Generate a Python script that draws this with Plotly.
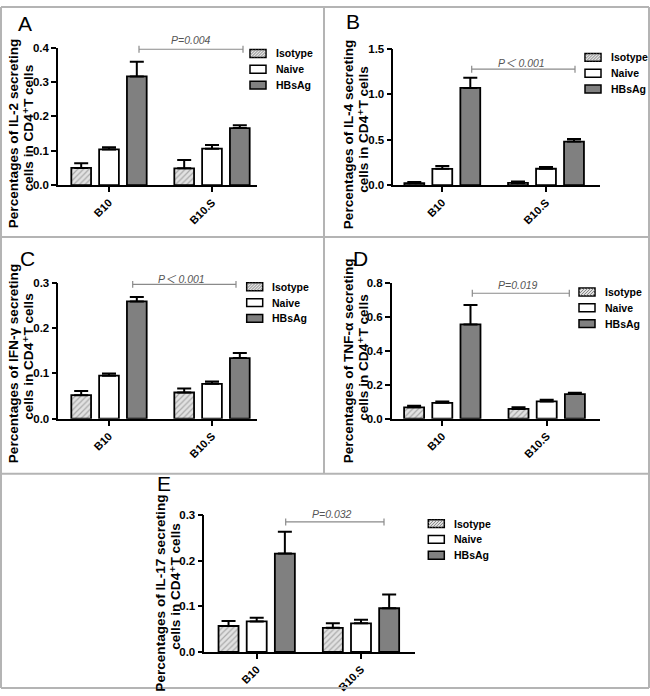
import plotly.graph_objects as go

W, H = 650, 696

groups = ["B10", "B10.S"]
series_names = ["Isotype", "Naive", "HBsAg"]

# Panel A: IL-2
il2_isotype = [0.050, 0.049]
il2_isotype_sd = [0.014, 0.024]
il2_naive = [0.104, 0.106]
il2_naive_sd = [0.006, 0.011]
il2_hbsag = [0.316, 0.166]
il2_hbsag_sd = [0.043, 0.008]

# Panel B: IL-4
il4_isotype = [0.022, 0.025]
il4_isotype_sd = [0.012, 0.015]
il4_naive = [0.179, 0.180]
il4_naive_sd = [0.030, 0.020]
il4_hbsag = [1.068, 0.478]
il4_hbsag_sd = [0.110, 0.030]

# Panel C: IFN-gamma
ifn_isotype = [0.052, 0.058]
ifn_isotype_sd = [0.009, 0.009]
ifn_naive = [0.095, 0.077]
ifn_naive_sd = [0.005, 0.005]
ifn_hbsag = [0.259, 0.134]
ifn_hbsag_sd = [0.010, 0.011]

# Panel D: TNF-alpha
tnf_isotype = [0.067, 0.058]
tnf_isotype_sd = [0.010, 0.009]
tnf_naive = [0.094, 0.102]
tnf_naive_sd = [0.008, 0.010]
tnf_hbsag = [0.555, 0.145]
tnf_hbsag_sd = [0.115, 0.008]

# Panel E: IL-17
il17_isotype = [0.057, 0.053]
il17_isotype_sd = [0.011, 0.010]
il17_naive = [0.067, 0.063]
il17_naive_sd = [0.008, 0.008]
il17_hbsag = [0.216, 0.096]
il17_hbsag_sd = [0.048, 0.030]

panel_letters = ["A", "B", "C", "D", "E"]
cytokines = ["IL-2", "IL-4", "IFN-γ", "TNF-α", "IL-17"]
p_values = ["P=0.004", "P＜ 0.001", "P＜ 0.001", "P=0.019", "P=0.032"]
y_max = [0.4, 1.5, 0.3, 0.8, 0.3]
y_dtick = [0.1, 0.5, 0.1, 0.2, 0.1]

panel_means = [
    [il2_isotype, il2_naive, il2_hbsag],
    [il4_isotype, il4_naive, il4_hbsag],
    [ifn_isotype, ifn_naive, ifn_hbsag],
    [tnf_isotype, tnf_naive, tnf_hbsag],
    [il17_isotype, il17_naive, il17_hbsag],
]
panel_sds = [
    [il2_isotype_sd, il2_naive_sd, il2_hbsag_sd],
    [il4_isotype_sd, il4_naive_sd, il4_hbsag_sd],
    [ifn_isotype_sd, ifn_naive_sd, ifn_hbsag_sd],
    [tnf_isotype_sd, tnf_naive_sd, tnf_hbsag_sd],
    [il17_isotype_sd, il17_naive_sd, il17_hbsag_sd],
]

# ---- layout geometry (pixels) ----
# xl/xr: x-axis line ends, t0/t1: category tick positions, yb/yt: y-axis ends
geom = [
    dict(xl=58.0, xr=257.0, t0=109.0, t1=212.0, yb=182.3, yt=42.3, letter=(25, 18),
         title_x=(13.5, 28.5), title_y=(130, 124), leg=(250, 48.3), br=(139, 243, 44), pt=(191, 35)),
    dict(xl=393.3, xr=600.0, t0=442.3, t1=546.0, yb=182.3, yt=43.3, letter=(353, 16),
         title_x=(348.5, 364), title_y=(131, 126), leg=(585, 52.3), br=(471.7, 575, 64.3), pt=(521.7, 57.7)),
    dict(xl=58.3, xr=257.0, t0=109.0, t1=212.0, yb=420.0, yt=281.7, letter=(27, 257),
         title_x=(13.5, 29), title_y=(364, 357), leg=(246.7, 285.7), br=(132.7, 236, 283.3), pt=(181.7, 277.3)),
    dict(xl=391.7, xr=600.0, t0=442.3, t1=546.7, yb=420.0, yt=281.7, letter=(360, 257),
         title_x=(348.5, 364), title_y=(361, 358), leg=(579, 291), br=(472.3, 569.3, 292.3), pt=(517.7, 284)),
    dict(xl=204.3, xr=415.0, t0=256.7, t1=361.0, yb=657.3, yt=518.3, letter=(164, 486),
         title_x=(161, 176), title_y=(598, 591), leg=(428.3, 526.7), br=(285.7, 384, 525), pt=(332.3, 517.3)),
]

FONT = "Arial, Liberation Sans, DejaVu Sans, Noto Sans CJK SC, sans-serif"
fills = ["#dcdcdc", "#ffffff", "#808080"]
HATCH_BG, HATCH_FG = "#e2e2e2", "#707070"


def px(x):
    return x / W


def py(y):
    return 1 - y / H


fig = go.Figure()
shapes, annotations = [], []
layout = dict(
    width=W, height=H, margin=dict(l=0, r=0, t=0, b=0),
    paper_bgcolor="white", plot_bgcolor="white", showlegend=False,
    barmode="group", bargap=0.19, bargroupgap=0.29,
    font=dict(family=FONT, size=12, color="black"),
)


def pline(x0, y0, x1, y1, color, width):
    shapes.append(dict(type="line", xref="paper", yref="paper",
                       x0=px(x0), y0=py(y0), x1=px(x1), y1=py(y1),
                       line=dict(color=color, width=width)))


for i in range(5):
    g = geom[i]
    sfx = "" if i == 0 else str(i + 1)
    for s in range(3):
        marker = dict(color=fills[s], line=dict(color="black", width=1.8))
        if s == 0:
            marker["pattern"] = dict(shape="/", bgcolor=HATCH_BG, fgcolor=HATCH_FG,
                                     size=4, solidity=0.3)
        fig.add_trace(go.Bar(
            x=groups, y=panel_means[i][s], name=series_names[s],
            xaxis="x" + sfx, yaxis="y" + sfx,
            marker=marker,
            error_y=dict(type="data", symmetric=False, array=panel_sds[i][s],
                         arrayminus=[0] * len(groups), color="black",
                         thickness=2, width=7),
        ))
    spacing = g["t1"] - g["t0"]
    xrange = [-(g["t0"] - g["xl"]) / spacing, 1 + (g["xr"] - g["t1"]) / spacing]
    layout["xaxis" + sfx] = dict(
        domain=[px(g["xl"]), px(g["xr"])], anchor="y" + sfx, type="category",
        range=xrange, showline=True, linecolor="black", linewidth=1.5,
        ticks="outside", ticklen=5, tickwidth=1.5, tickcolor="black",
        tickangle=-45, tickfont=dict(size=11, weight="bold", family=FONT),
        showgrid=False, zeroline=False,
    )
    layout["yaxis" + sfx] = dict(
        domain=[py(g["yb"]), py(g["yt"])], anchor="x" + sfx,
        range=[0, y_max[i]], dtick=y_dtick[i], tickformat=".1f",
        showline=True, linecolor="black", linewidth=1.5,
        ticks="outside", ticklen=5, tickwidth=1.5, tickcolor="black",
        tickfont=dict(size=11.5, weight="bold", family=FONT),
        showgrid=False, zeroline=False,
    )
    # panel letter
    annotations.append(dict(
        text=panel_letters[i], x=px(g["letter"][0]), y=py(g["letter"][1]),
        xref="paper", yref="paper", showarrow=False,
        font=dict(size=21, family=FONT, color="black"),
        xanchor="center", yanchor="middle",
    ))
    # y axis title (two lines)
    title_lines = ["Percentages of %s secreting" % cytokines[i],
                   "cells in CD4⁺T cells"]
    for k in range(2):
        annotations.append(dict(
            text=title_lines[k], x=px(g["title_x"][k]), y=py(g["title_y"][k]),
            xref="paper", yref="paper", showarrow=False, textangle=-90,
            xanchor="center", yanchor="middle",
            font=dict(size=13.6, weight="bold", family=FONT, color="black"),
        ))
    # legend (drawn by hand)
    lx, ly = g["leg"]
    for s in range(3):
        cy = ly + s * 16.1
        x0, x1, y0, y1 = lx, lx + 16, cy - 4, cy + 4
        shapes.append(dict(type="rect", xref="paper", yref="paper",
                           x0=px(x0), x1=px(x1), y0=py(y1), y1=py(y0),
                           fillcolor=HATCH_BG if s == 0 else fills[s],
                           line=dict(color="black", width=1.5)))
        if s == 0:
            c = x0 + y0 + 3
            while c < x1 + y1:
                xs, xe = max(x0, c - y1), min(x1, c - y0)
                if xe - xs > 0.5:
                    pline(xs, c - xs, xe, c - xe, HATCH_FG, 0.8)
                c += 3
        annotations.append(dict(
            text=series_names[s], x=px(lx + 23.5), y=py(cy), xref="paper", yref="paper",
            showarrow=False, xanchor="left", yanchor="middle",
            font=dict(size=10.5, weight="bold", family=FONT, color="black"),
        ))
    # p-value bracket
    bx0, bx1, by = g["br"]
    pline(bx0, by, bx1, by, "#8a8a8a", 1.2)
    pline(bx0, by - 3.5, bx0, by + 3.5, "#8a8a8a", 1.2)
    pline(bx1, by - 3.5, bx1, by + 3.5, "#8a8a8a", 1.2)
    annotations.append(dict(
        text="<i>%s</i>" % p_values[i], x=px(g["pt"][0]), y=py(g["pt"][1]),
        xref="paper", yref="paper", showarrow=False, xanchor="center", yanchor="middle",
        font=dict(size=10.5, family=FONT, color="#555555"),
    ))

# panel frames
for seg in [(1, 1, 649, 1), (1, 694, 649, 694), (1, 1, 1, 694), (649, 1, 649, 694),
            (324, 1, 324, 476), (1, 235, 649, 235), (1, 476, 649, 476)]:
    pline(seg[0], seg[1], seg[2], seg[3], "#b4b4b4", 2)

layout["shapes"] = shapes
layout["annotations"] = annotations
fig.update_layout(**layout)
fig.write_html("out.html")
